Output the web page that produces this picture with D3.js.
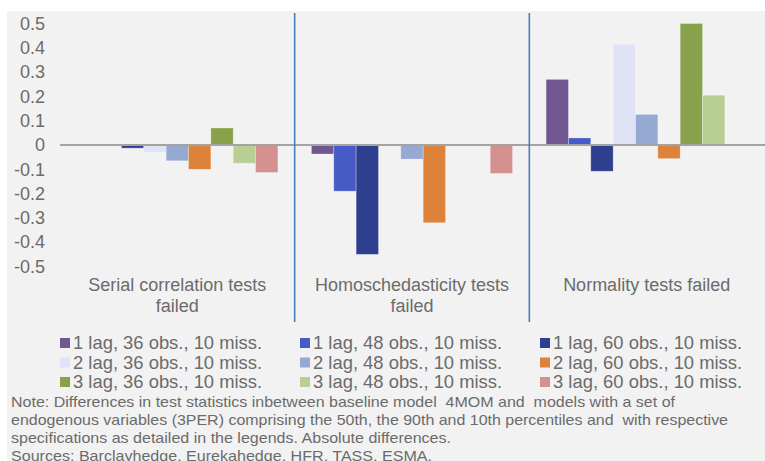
<!DOCTYPE html>
<html>
<head>
<meta charset="utf-8">
<script src="https://cdn.jsdelivr.net/npm/d3@7"></script>
<style>
  body { margin: 0; background: #fff; }
  text { font-family: "Liberation Sans", Arial, sans-serif; fill: #6b6b6b; }
</style>
</head>
<body>
<div id="chart"></div>
<script>
// categories (x axis) and series (bars within each category)
const categories = ["Serial", "Homo", "Normality"];
const categoryLabels = [["Serial correlation tests", "failed"], ["Homoschedasticity tests", "failed"], ["Normality tests failed"]];
const series = [
	"1 lag, 36 obs., 10 miss.", "1 lag, 48 obs., 10 miss.", "1 lag, 60 obs., 10 miss.",
	"2 lag, 36 obs., 10 miss.", "2 lag, 48 obs., 10 miss.", "2 lag, 60 obs., 10 miss.",
	"3 lag, 36 obs., 10 miss.", "3 lag, 48 obs., 10 miss.", "3 lag, 60 obs., 10 miss."
];
const seriesColors = ["#71578f", "#465bc6", "#2e3f8f", "#dfe3f5", "#95a9d2", "#dc823a", "#87a24a", "#b8cf93", "#d49190"];

// values per series, one per category
const serialValues = [0, 0, -0.013, -0.03, -0.065, -0.10, 0.07, -0.075, -0.113];
const homoValues = [-0.037, -0.19, -0.45, 0, -0.058, -0.32, 0, 0, -0.117];
const normalityValues = [0.27, 0.029, -0.108, 0.415, 0.126, -0.056, 0.50, 0.205, 0];

const yTicks = [-0.5, -0.4, -0.3, -0.2, -0.1, 0, 0.1, 0.2, 0.3, 0.4, 0.5];

const noteLines = [
	"Note: Differences in test statistics inbetween baseline model  4MOM and  models with a set of",
	"endogenous variables (3PER) comprising the 50th, the 90th and 10th percentiles and  with respective",
	"specifications as detailed in the legends. Absolute differences.",
	"Sources: Barclayhedge, Eurekahedge, HFR, TASS, ESMA."
];
const noteWidths = [664, 717, 440, 421];

const W = 765, H = 461;
const valuesByCat = [serialValues, homoValues, normalityValues];
const data = [];
categories.forEach((c, ci) => series.forEach((s, si) => data.push({cat: c, s: s, v: valuesByCat[ci][si]})));

const svg = d3.select("#chart").append("svg")
	.attr("width", W)
	.attr("height", H);

// panel background
svg.append("rect")
	.attr("x", 7).attr("y", 11)
	.attr("width", W - 7).attr("height", H - 11)
	.attr("fill", "#f2f2f2");

const yscale = d3.scaleLinear().domain([-0.5, 0.5]).range([266.5, 23.5]);
const x0 = d3.scaleBand().domain(categories).range([60, 764]);
const x1 = d3.scaleBand().domain(series).range([0, x0.bandwidth()]).paddingOuter(0.75);
const color = d3.scaleOrdinal().domain(series).range(seriesColors);

// y axis labels
const fmt = d => d === 0 ? "0" : d3.format(".1f")(d).replace("\u2212", "-");
svg.append("g")
	.attr("transform", "translate(45,0)")
	.call(d3.axisLeft(yscale).tickValues(yTicks).tickSize(0).tickPadding(0).tickFormat(fmt))
	.call(g => g.select(".domain").remove())
	.call(g => g.selectAll("text")
		.attr("fill", null)
		.style("font-size", "18px")
		.style("font-family", null));

// bars
svg.append("g").selectAll("rect")
	.data(data).enter().append("rect")
	.attr("x", d => x0(d.cat) + x1(d.s))
	.attr("width", x1.bandwidth())
	.attr("y", d => yscale(Math.max(0, d.v)))
	.attr("height", d => Math.abs(yscale(d.v) - yscale(0)))
	.attr("fill", d => color(d.s))
	.attr("stroke", "#ffffff")
	.attr("stroke-opacity", 0.35)
	.attr("stroke-width", 0.8);

// zero line
svg.append("line")
	.attr("x1", 60).attr("x2", W)
	.attr("y1", yscale(0)).attr("y2", yscale(0))
	.attr("stroke", "#a3a3a3")
	.attr("stroke-width", 1.8);

// category separators
svg.append("g").selectAll("line")
	.data(categories.slice(1)).enter().append("line")
	.attr("x1", d => x0(d)).attr("x2", d => x0(d))
	.attr("y1", 13).attr("y2", 322)
	.attr("stroke", "#4a7ebb")
	.attr("stroke-width", 1.6);

// category labels
categories.forEach((c, i) => {
	const t = svg.append("text")
		.attr("text-anchor", "middle")
		.style("font-size", "18px")
		.attr("x", x0(c) + x0.bandwidth() / 2)
		.attr("y", 291);
	categoryLabels[i].forEach((line, li) => {
		t.append("tspan")
			.attr("x", x0(c) + x0.bandwidth() / 2)
			.attr("dy", li === 0 ? 0 : 21)
			.text(line);
	});
});

// legend
const legend = svg.append("g").selectAll("g")
	.data(series).enter().append("g")
	.attr("transform", (d, i) => "translate(" + (60 + (i % 3) * 240) + "," + (343 + Math.floor(i / 3) * 19.5) + ")");
legend.append("rect")
	.attr("x", 0).attr("y", -5)
	.attr("width", 10).attr("height", 10)
	.attr("fill", d => color(d));
legend.append("text")
	.attr("x", 13).attr("y", 6)
	.style("font-size", "18.4px")
	.text(d => d);

// note
svg.append("g").selectAll("text")
	.data(noteLines).enter().append("text")
	.attr("x", 11)
	.attr("y", (d, i) => 407 + i * 18)
	.style("font-size", "15px")
	.style("white-space", "pre")
	.attr("textLength", (d, i) => noteWidths[i])
	.attr("lengthAdjust", "spacingAndGlyphs")
	.text(d => d);
</script>
</body>
</html>
